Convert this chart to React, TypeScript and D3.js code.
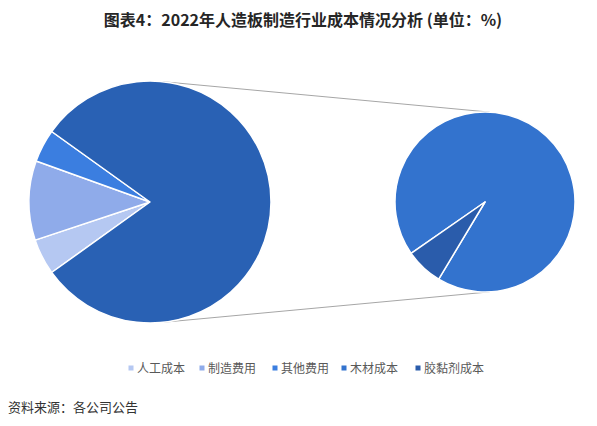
import React from "react";
import * as d3 from "d3";

const title = "图表4：2022年人造板制造行业成本情况分析 (单位：%)";
const source = "资料来源：各公司公告";

const categories = ["人工成本", "制造费用", "其他费用", "木材成本", "胶黏剂成本"];
const values = [4.8, 10.6, 4.4, 74.8, 5.4];
const colors = ["#B5C8F2", "#8FABEA", "#3B7EE0", "#3373CE", "#2A5CAB"];
const compositeColor = "#2961B4";
const secondaryCount = 2;

const W = 597;
const H = 426;

export default function App() {
  const n = categories.length;
  const primaryIdx = d3.range(0, n - secondaryCount);
  const secondaryIdx = d3.range(n - secondaryCount, n);
  const total = d3.sum(values);
  const otherSum = d3.sum(secondaryIdx, (i) => values[i]);
  const smallSum = total - otherSum;

  // primary pie: small slices centered on the left
  const cx1 = 150, cy1 = 202, r1 = 121;
  const cx2 = 485, cy2 = 202, r2 = 90;

  const primaryData = [...primaryIdx.map((i) => ({ v: values[i], c: colors[i], k: categories[i] })), { v: otherSum, c: compositeColor, k: "other" }];
  const smallAngle = (smallSum / total) * 2 * Math.PI;
  const start1 = 1.5 * Math.PI - smallAngle / 2;
  const pie1 = d3.pie<any>().sort(null).value((d) => d.v).startAngle(start1).endAngle(start1 + 2 * Math.PI);
  const arc1 = d3.arc<any>().innerRadius(0).outerRadius(r1);

  const secondaryData = secondaryIdx.map((i) => ({ v: values[i], c: colors[i], k: categories[i] }));
  const lastFrac = values[n - 1] / otherSum;
  const end2 = (235.2 / 180) * Math.PI;
  const start2 = end2 - 2 * Math.PI;
  const pie2 = d3.pie<any>().sort(null).value((d) => d.v).startAngle(start2).endAngle(end2);
  const arc2 = d3.arc<any>().innerRadius(0).outerRadius(r2);
  void lastFrac;

  const connA1 = (5 / 180) * Math.PI;
  const connA2 = (3 / 180) * Math.PI;
  const pt = (cx: number, cy: number, r: number, a: number) => [cx + r * Math.sin(a), cy - r * Math.cos(a)];
  const [tx1, ty1] = pt(cx1, cy1, r1, connA1);
  const [tx2, ty2] = pt(cx2, cy2, r2, connA2);
  const [bx1, by1] = pt(cx1, cy1, r1, Math.PI - connA1);
  const [bx2, by2] = pt(cx2, cy2, r2, Math.PI - connA2);

  const legendX = [131, 202, 275, 344, 418];

  return (
    <svg width={W} height={H} style={{ position: "absolute", left: 0, top: 0, background: "#fff" }}>
      <text x={303} y={26} textAnchor="middle" fontFamily="'Noto Sans CJK SC', sans-serif" fontWeight="bold" fontSize={16} fill="#262626">
        {title}
      </text>
      <line x1={tx1} y1={ty1} x2={tx2} y2={ty2} stroke="#A6A6A6" strokeWidth={1} />
      <line x1={bx1} y1={by1} x2={bx2} y2={by2} stroke="#A6A6A6" strokeWidth={1} />
      <g transform={`translate(${cx1},${cy1})`}>
        {pie1(primaryData).map((d, i) => (
          <path key={i} d={arc1(d) as string} fill={d.data.c} stroke="#fff" strokeWidth={1.5} strokeLinejoin="round" />
        ))}
      </g>
      <g transform={`translate(${cx2},${cy2})`}>
        {pie2(secondaryData).map((d, i) => (
          <path key={i} d={arc2(d) as string} fill={d.data.c} stroke="#fff" strokeWidth={1.5} strokeLinejoin="round" />
        ))}
      </g>
      <g fontFamily="'Noto Sans CJK SC', sans-serif" fontSize={12} fill="#595959">
        {categories.map((c, i) => (
          <g key={c} transform={`translate(${legendX[i]},368)`}>
            <rect x={-2.5} y={-2.5} width={5} height={5} fill={colors[i]} />
            <text x={6} y={4.5}>{c}</text>
          </g>
        ))}
      </g>
      <text x={8} y={412} fontFamily="'Noto Sans CJK SC', sans-serif" fontSize={13} fill="#333">
        {source}
      </text>
    </svg>
  );
}
